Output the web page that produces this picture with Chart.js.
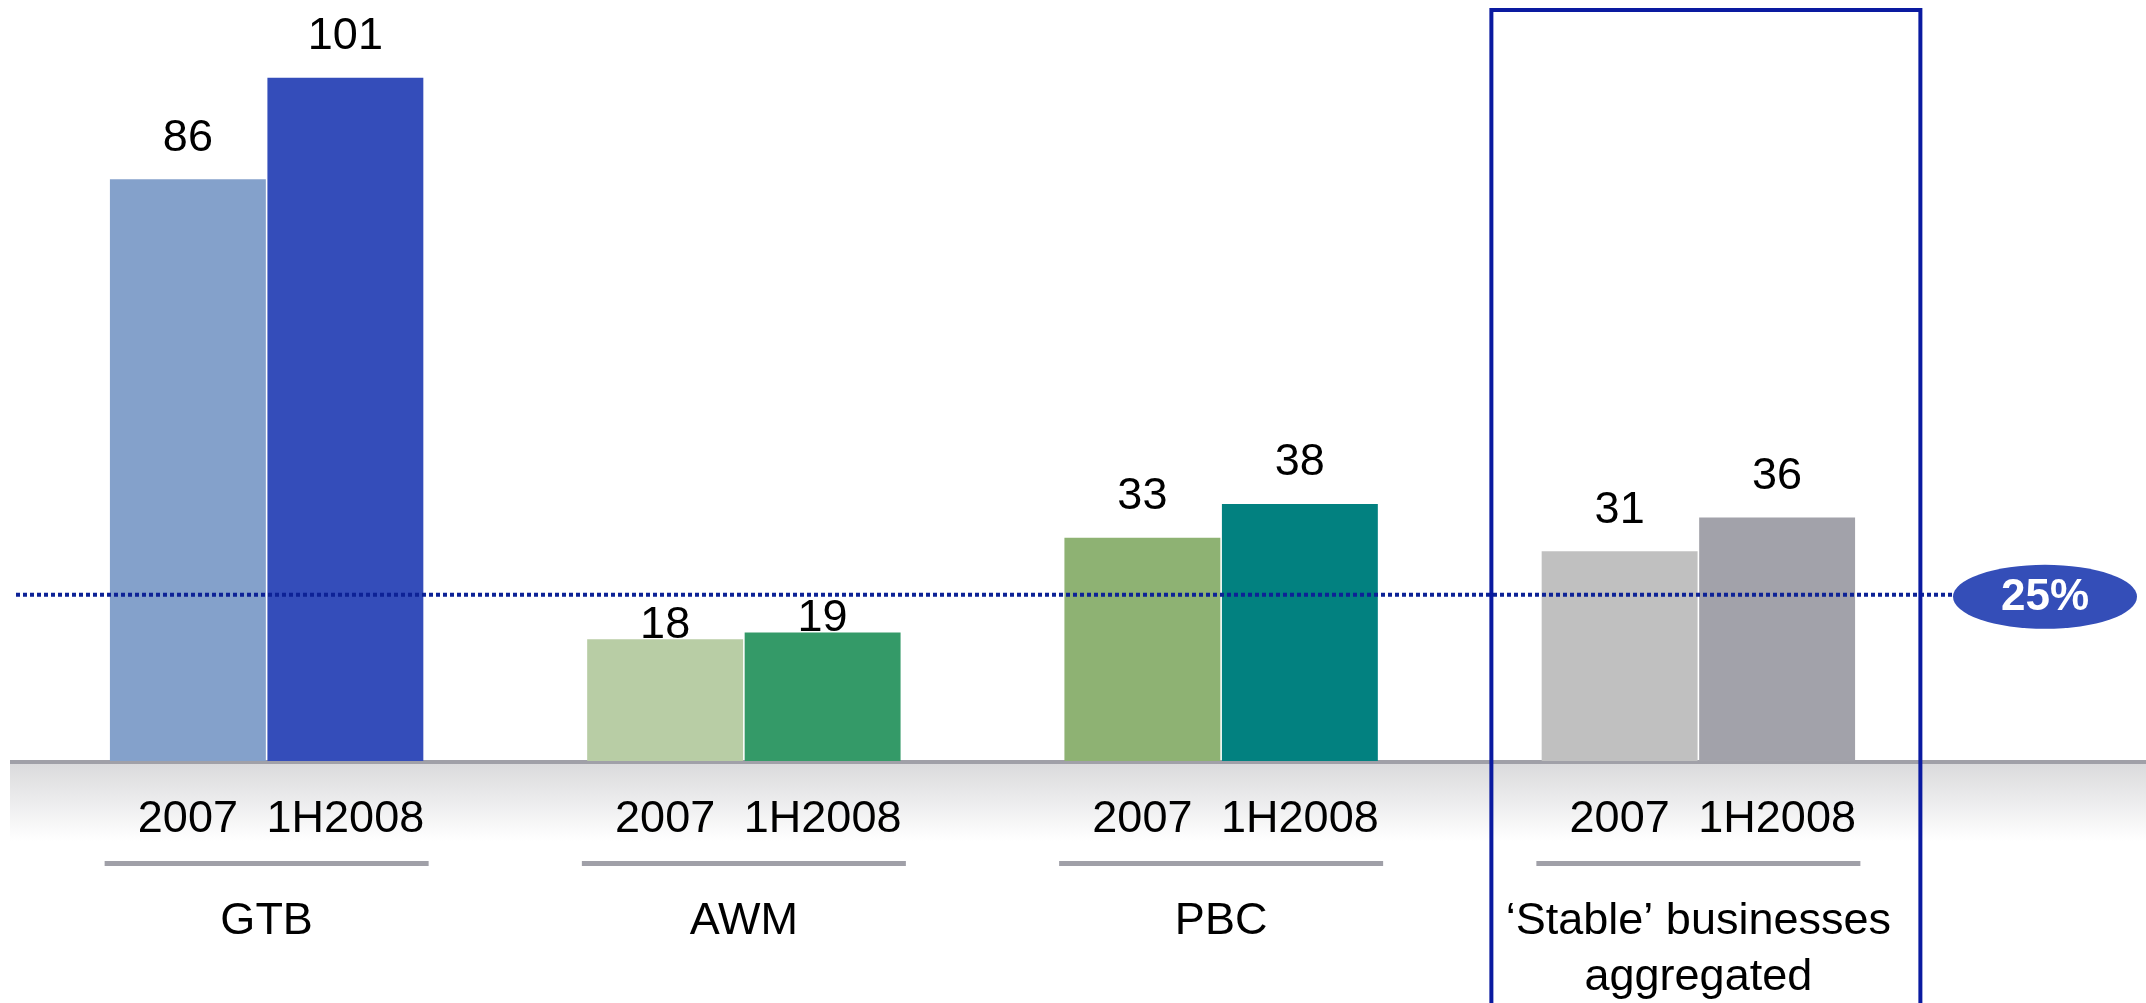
<!DOCTYPE html>
<html>
<head>
<meta charset="utf-8">
<script src="https://cdn.jsdelivr.net/npm/chart.js@4"></script>
<style>
  body { margin: 0; background: #fff; }
  canvas { display: block; }
</style>
</head>
<body>
<canvas id="myChart" width="2146" height="1003"></canvas>
<script>
// data
var categories = ['GTB', 'AWM', 'PBC', ['\u2018Stable\u2019 businesses', 'aggregated']];
var periods = ['2007', '1H2008'];
var values2007 = [86, 18, 33, 31];
var values1H2008 = [101, 19, 38, 36];
var colors2007 = ['#84a1cb', '#b8cda5', '#8eb273', '#c0c0c0'];
var colors1H2008 = ['#344dba', '#349a68', '#028180', '#a2a2aa'];
var threshold = 25;
var thresholdLabel = '25%';
var highlightIndex = 3;

var FONT = '"Liberation Sans", Arial, sans-serif';

var decorations = {
    id: 'decorations',
    beforeDatasetsDraw: function(chart) {
        var ctx = chart.ctx;
        var area = chart.chartArea;
        var w = chart.width;
        // grey band under the baseline
        var g = ctx.createLinearGradient(0, area.bottom, 0, area.bottom + 80);
        g.addColorStop(0, '#d9d9db');
        g.addColorStop(1, '#ffffff');
        ctx.save();
        ctx.fillStyle = g;
        ctx.fillRect(10, area.bottom, w - 10, 80);
        ctx.fillStyle = '#a0a0a8';
        ctx.fillRect(10, area.bottom - 1, w - 10, 4);
        ctx.restore();
    },
    afterDatasetsDraw: function(chart) {
        var ctx = chart.ctx;
        var area = chart.chartArea;
        var x = chart.scales.x;
        var y = chart.scales.y;
        var ty = y.getPixelForValue(threshold) + 3;

        ctx.save();
        // dotted threshold line
        ctx.strokeStyle = '#0d2296';
        ctx.lineWidth = 4;
        ctx.setLineDash([4, 3]);
        ctx.beginPath();
        ctx.moveTo(16, ty);
        ctx.lineTo(1952, ty);
        ctx.stroke();
        ctx.setLineDash([]);

        // threshold badge
        ctx.fillStyle = '#344eb8';
        ctx.beginPath();
        ctx.ellipse(2045, ty + 2, 92, 32, 0, 0, Math.PI * 2);
        ctx.fill();
        ctx.fillStyle = '#ffffff';
        ctx.font = 'bold 44px ' + FONT;
        ctx.textAlign = 'center';
        ctx.textBaseline = 'middle';
        ctx.fillText(thresholdLabel, 2045, ty + 3);

        // value labels and period labels
        ctx.fillStyle = '#000000';
        ctx.font = '45px ' + FONT;
        chart.data.datasets.forEach(function(ds, di) {
            chart.getDatasetMeta(di).data.forEach(function(bar, i) {
                var ly = bar.y - 41;
                if (Math.abs(ly - ty) < 30) ly = bar.y - 14;
                ctx.fillText(String(ds.data[i]), bar.x, ly);
                ctx.fillText(periods[di], bar.x, area.bottom + 59);
            });
        });

        // underline under each pair of period labels
        ctx.fillStyle = '#a0a0a8';
        categories.forEach(function(c, i) {
            var cx = x.getPixelForValue(i);
            ctx.fillRect(cx - 162, area.bottom + 100, 324, 5);
        });

        // box round the highlighted group
        var hx = x.getPixelForValue(highlightIndex);
        ctx.strokeStyle = '#0a1aa0';
        ctx.lineWidth = 4;
        ctx.strokeRect(hx - 207, 10, 429, chart.height + 20);
        ctx.restore();
    }
};

var ctx = document.getElementById('myChart').getContext('2d');
var myChart = new Chart(ctx, {
    type: 'bar',
    data: {
        labels: categories,
        datasets: [{
            label: periods[0],
            data: values2007,
            backgroundColor: colors2007,
            borderWidth: 0
        }, {
            label: periods[1],
            data: values1H2008,
            backgroundColor: colors1H2008,
            borderWidth: 0
        }]
    },
    options: {
        responsive: false,
        animation: false,
        layout: { padding: { left: 28, right: 209, top: 10, bottom: 0 } },
        categoryPercentage: 0.66,
        barPercentage: 0.99,
        plugins: {
            legend: { display: false },
            tooltip: { enabled: false }
        },
        scales: {
            x: {
                grid: { display: false, drawTicks: false },
                border: { display: false },
                ticks: {
                    color: '#000000',
                    padding: 132,
                    font: { family: FONT, size: 45, lineHeight: 1.25 }
                },
                afterFit: function(s) { s.height = 242; }
            },
            y: {
                display: false,
                beginAtZero: true,
                min: 0,
                max: 111
            }
        }
    },
    plugins: [decorations]
});
</script>
</body>
</html>
